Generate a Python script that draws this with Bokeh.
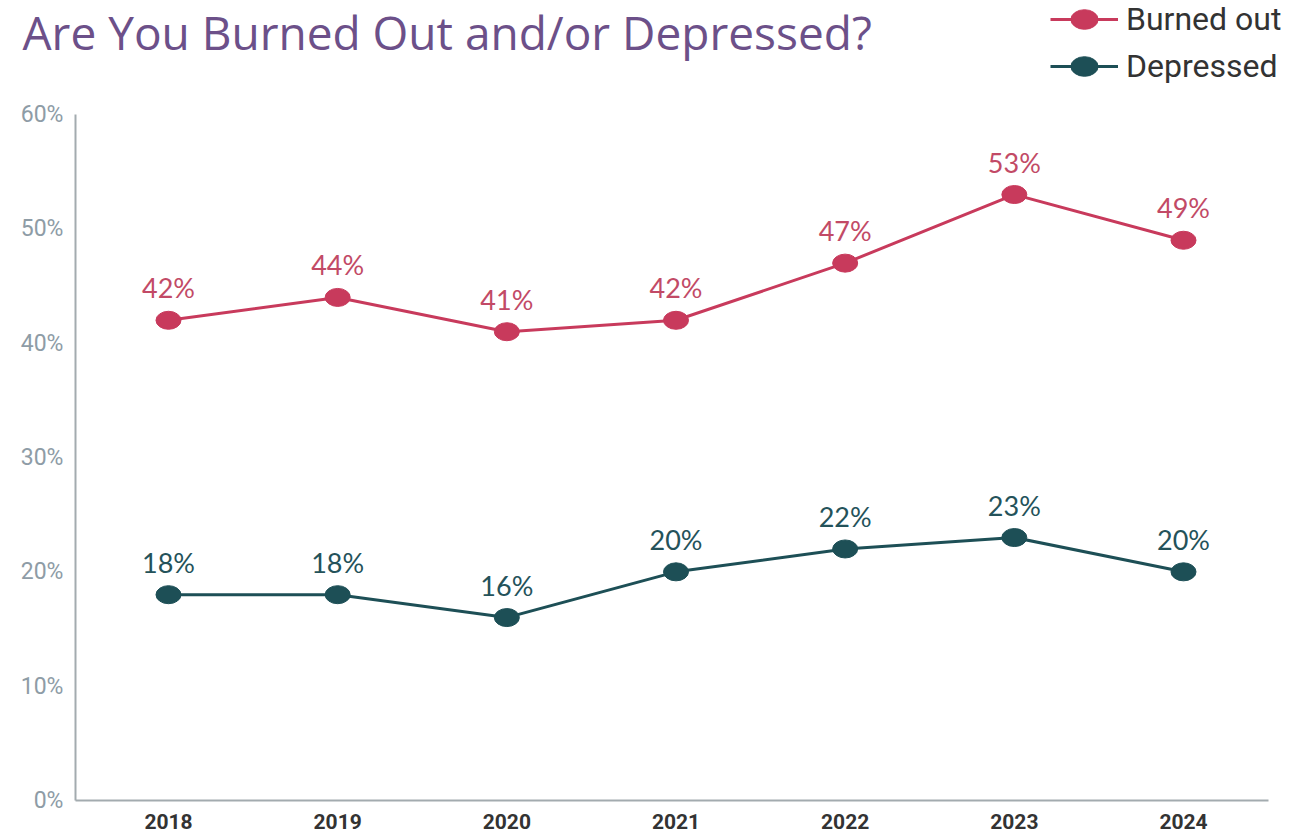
from bokeh.plotting import figure
from bokeh.models import ColumnDataSource, LabelSet, Legend, LegendItem, FixedTicker, Range1d, Label
from bokeh.core.properties import value
from bokeh.embed import file_html
from bokeh.resources import INLINE

years = [2018, 2019, 2020, 2021, 2022, 2023, 2024]
burned = [42, 44, 41, 42, 47, 53, 49]
depressed = [18, 18, 16, 20, 22, 23, 20]
y_ticks = [0, 10, 20, 30, 40, 50, 60]
title_text = "Are You Burned Out and/or Depressed?"

BURN = "#C83A5C"
DEP = "#1D4F56"

src_b = ColumnDataSource(dict(x=years, y=burned, lab=[f"{v}%" for v in burned]))
src_d = ColumnDataSource(dict(x=years, y=depressed, lab=[f"{v}%" for v in depressed]))

p = figure(width=1307, height=833, output_backend="svg", toolbar_location=None,
           x_range=Range1d(2017.0069, 2024.733), y_range=Range1d(-2.886, 69.97),
           min_border_left=0, min_border_right=0, min_border_top=0, min_border_bottom=0)
p.background_fill_color = "white"
p.border_fill_color = "white"
p.outline_line_color = None
p.grid.visible = False

p.add_layout(Label(x=22, y=802, x_units="screen", y_units="screen", text=title_text,
                   text_font="Open Sans", text_font_size="46px", text_color="#6C5089",
                   text_baseline="middle", text_align="left"))

lb = p.line("x", "y", source=src_b, line_color=BURN, line_width=3)
eb = p.ellipse("x", "y", source=src_b, width=25, height=18, width_units="screen",
               height_units="screen", fill_color=BURN, line_color=BURN)
ld = p.line("x", "y", source=src_d, line_color=DEP, line_width=3)
ed = p.ellipse("x", "y", source=src_d, width=25, height=18, width_units="screen",
               height_units="screen", fill_color=DEP, line_color=DEP)

p.add_layout(LabelSet(x="x", y="y", text="lab", source=src_b, y_offset=16,
                      text_align="center", text_baseline="bottom", text_font=value("Lato"),
                      text_font_size=value("27px"), text_color="#C24A66"))
p.add_layout(LabelSet(x="x", y="y", text="lab", source=src_d, y_offset=16,
                      text_align="center", text_baseline="bottom", text_font=value("Lato"),
                      text_font_size=value("27px"), text_color="#24525A"))

legend = Legend(items=[LegendItem(label="Burned out", renderers=[lb, eb]),
                       LegendItem(label="Depressed", renderers=[ld, ed])],
                location=(1050, 748), orientation="vertical",
                label_text_font="Roboto", label_text_font_size="32px",
                label_text_color="#333333", glyph_width=68, glyph_height=34,
                label_height=34, spacing=9, padding=0, margin=0, label_standoff=8,
                background_fill_alpha=0, border_line_color=None)
p.add_layout(legend)

p.xaxis.ticker = FixedTicker(ticks=years)
p.xaxis.bounds = (2017.45, 2024.502)
p.xaxis.fixed_location = 0
p.yaxis.ticker = FixedTicker(ticks=y_ticks)
p.yaxis.bounds = (0, 60)
p.yaxis.fixed_location = 2017.45
p.yaxis.major_label_overrides = {t: f"{t}%" for t in y_ticks}
for ax in (p.xaxis, p.yaxis):
    ax.axis_line_color = "#A3ABAF"
    ax.axis_line_width = 2
    ax.major_tick_line_color = None
    ax.minor_tick_line_color = None
p.xaxis.major_label_text_font = "Roboto"
p.xaxis.major_label_text_font_style = "bold"
p.xaxis.major_label_text_font_size = "21px"
p.xaxis.major_label_text_color = "#333333"
p.xaxis.major_label_standoff = 7
p.yaxis.major_label_text_font = "Roboto"
p.yaxis.major_label_text_font_size = "23px"
p.yaxis.major_label_text_color = "#8E9CA6"
p.yaxis.major_label_standoff = 6

open("out.html", "w").write(file_html(p, INLINE))
